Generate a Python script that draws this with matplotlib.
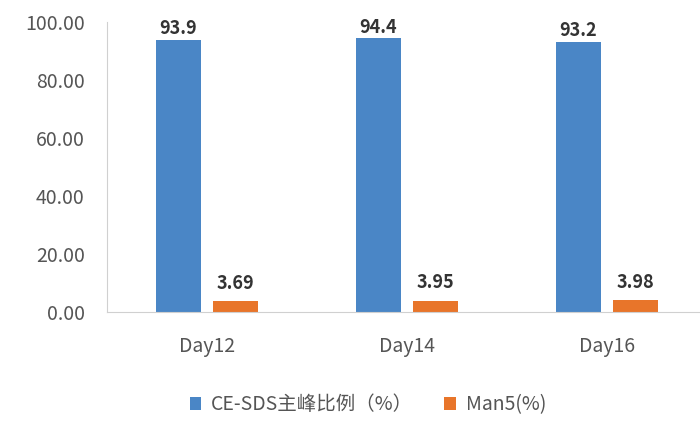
import matplotlib
matplotlib.use("Agg")
import matplotlib.pyplot as plt
import numpy as np

plt.rcParams['font.family'] = ['Noto Sans CJK SC', 'DejaVu Sans']

categories = ["Day12", "Day14", "Day16"]
ce_sds = [93.9, 94.4, 93.2]
man5 = [3.69, 3.95, 3.98]
ce_labels = ["93.9", "94.4", "93.2"]
man5_labels = ["3.69", "3.95", "3.98"]
yticks = [0, 20, 40, 60, 80, 100]

fig = plt.figure(figsize=(7.0, 4.21), dpi=100)
ax = fig.add_axes([107/700, (421-312)/421, (700-107)/700, (312-22)/421])

x = np.arange(len(categories))
w = 0.225
off = 0.1425
blue = "#4a86c6"
orange = "#e8752a"
b1 = ax.bar(x - off, ce_sds, w, color=blue, label="CE-SDS主峰比例（%）")
b2 = ax.bar(x + off, man5, w, color=orange, label="Man5(%)")

for xi, v, t in zip(x - off, ce_sds, ce_labels):
    ax.text(xi, v + 0.5, t, ha='center', va='bottom', fontsize=13, fontweight='bold', color='#333333')
for xi, v, t in zip(x + off, man5, man5_labels):
    ax.text(xi, v + 3.0, t, ha='center', va='bottom', fontsize=13, fontweight='bold', color='#333333')

ax.set_xlim(-0.5, -0.5 + (700-107)/200)
ax.set_ylim(0, 100)
ax.set_yticks(yticks)
ax.set_yticklabels([f"{v:.2f}" for v in yticks])
ax.set_xticks(x)
ax.set_xticklabels(categories)
ax.tick_params(axis='both', length=0, labelsize=14, colors='#555555')
ax.tick_params(axis='x', pad=17)
ax.tick_params(axis='y', pad=16)

for s in ['top', 'right']:
    ax.spines[s].set_visible(False)
ax.spines['left'].set_color('#d0d0d0')
ax.spines['bottom'].set_color('#d0d0d0')

fig.legend(handles=[b1, b2], loc='center', bbox_to_anchor=(368/700, 1 - 405/421),
           ncol=2, frameon=False, fontsize=14, handlelength=0.6, handleheight=0.6,
           columnspacing=1.6, handletextpad=0.5, labelcolor='#555555')

fig.savefig("out.png", dpi=100)
